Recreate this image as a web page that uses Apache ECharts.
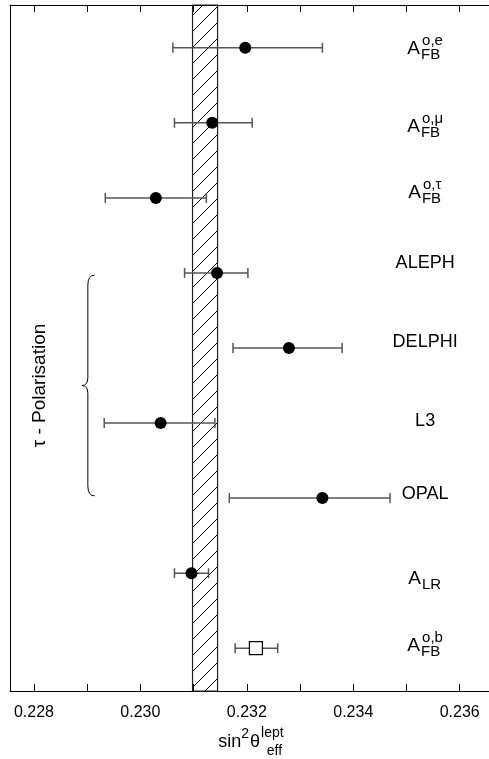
<!DOCTYPE html>
<html><head><meta charset="utf-8">
<script src="https://cdn.jsdelivr.net/npm/echarts@6/dist/echarts.min.js"></script>
<style>html,body{margin:0;padding:0;background:#fff}#c{width:489px;height:759px}</style>
</head><body><div id="c"></div>
<script>
// ---- data ----
const labelMain = ['A','A','A','ALEPH','DELPHI','L3','OPAL','A','A'];
const labelSup  = ['o,e','o,\u03bc','o,\u03c4','','','','','','o,b'];
const labelSub  = ['FB','FB','FB','','','','','LR','FB'];
const values  = [0.23197, 0.23135, 0.23029, 0.23144, 0.23279, 0.23038, 0.23342, 0.23096, 0.23217];
const errLow  = [0.23061, 0.23064, 0.22934, 0.23083, 0.23174, 0.22932, 0.23167, 0.23064, 0.23178];
const errHigh = [0.23342, 0.23210, 0.23124, 0.23202, 0.23379, 0.23140, 0.23469, 0.23128, 0.23258];
const band = [0.23098, 0.23145];
const xTickLabels = ['0.228','0.230','0.232','0.234','0.236'];
const groupLabel = '\u03c4 - Polarisation';
const groupRows = [4.03, 6.97];

// ---- layout / style ----
const FONT = '"Liberation Sans", Arial, Helvetica, sans-serif';
const X_MIN = 0.22755, X_MAX = 0.23655, Y_MIN = 0.43, Y_MAX = 9.57;
const LABEL_X = 0.23535;
const labelDy = [1, 4, -5, -10, -6, -2, -4, 6, -2];
const mctx = document.createElement('canvas').getContext('2d');
function tw(t, s){ mctx.font = s + 'px ' + FONT; return mctx.measureText(t).width; }
function txt(t, x, y, s, align){ return {type:'text', style:{text:t, x:x, y:y, font: s+'px '+FONT, fill:'#000', align: align||'left', verticalAlign:'middle'}}; }
function compound(cx, cy, main, sup, sub, big, small){
  const wM = tw(main, big);
  const wS = Math.max(sup ? tw(sup, small) : 0, sub ? tw(sub, small) : 0);
  const total = wM + (wS ? wS + 2 : 0);
  const x0 = cx - total / 2;
  const kids = [txt(main, x0, cy, big)];
  if (sup) kids.push(txt(sup, x0 + wM + 2, cy - 8, small));
  if (sub) kids.push(txt(sub, x0 + wM + 1, cy + 6, small));
  return kids;
}

// hatch pattern
const pc = document.createElement('canvas');
pc.width = 16; pc.height = 16;
const pctx = pc.getContext('2d');
pctx.strokeStyle = '#000'; pctx.lineWidth = 1;
pctx.beginPath();
pctx.moveTo(-1, 17); pctx.lineTo(17, -1);
pctx.stroke();

const chart = echarts.init(document.getElementById('c'), null, {renderer:'canvas'});
const isMajor = v => xTickLabels.indexOf(v.toFixed(3)) >= 0 && Math.abs(v*1000 - Math.round(v*1000)) < 1e-6;

const axisCommon = {
  type:'value', min:X_MIN, max:X_MAX, splitNumber:9,
  splitLine:{show:false},
  axisLine:{show:true, onZero:false, lineStyle:{color:'#000', width:1}},
  axisTick:{show:true, inside:true, length:7, lineStyle:{color:'#000', width:1}}
};

const option = {
  animation:false,
  backgroundColor:'#fff',
  grid:{left:10, right:-4, top:5, bottom:68, containLabel:false},
  xAxis:[
    Object.assign({}, axisCommon, {position:'bottom',
      axisLabel:{show:true, color:'#000', fontSize:16, fontFamily:FONT, margin:14,
        showMinLabel:false, showMaxLabel:false,
        formatter: v => isMajor(v) ? v.toFixed(3) : ''}}),
    Object.assign({}, axisCommon, {position:'top', axisLabel:{show:false}})
  ],
  yAxis:{type:'value', min:Y_MIN, max:Y_MAX, inverse:true,
    splitLine:{show:false}, axisTick:{show:false}, axisLabel:{show:false},
    axisLine:{show:true, onZero:false, lineStyle:{color:'#000', width:1}}},
  series:[
    { // hatched band
      type:'custom', z:2, data:[[band[0], band[1]]],
      renderItem:(params, api) => {
        const p0 = api.coord([api.value(0), Y_MIN]);
        const p1 = api.coord([api.value(1), Y_MAX]);
        return {type:'rect', shape:{x:p0[0], y:p0[1], width:p1[0]-p0[0], height:p1[1]-p0[1]},
          style:{fill:{image:pc, repeat:'repeat'}, stroke:'#222', lineWidth:1.2}};
      }
    },
    { // error bars and markers
      type:'custom', z:3,
      data: values.map((v, i) => [i + 1, v, errLow[i], errHigh[i]]),
      renderItem:(params, api) => {
        const row = api.value(0);
        const pl = api.coord([api.value(2), row]);
        const ph = api.coord([api.value(3), row]);
        const pm = api.coord([api.value(1), row]);
        const st = {stroke:'#555', lineWidth:1.5};
        const kids = [
          {type:'line', shape:{x1:pl[0], y1:pl[1], x2:ph[0], y2:ph[1]}, style:st},
          {type:'line', shape:{x1:pl[0], y1:pl[1]-5, x2:pl[0], y2:pl[1]+5}, style:st},
          {type:'line', shape:{x1:ph[0], y1:ph[1]-5, x2:ph[0], y2:ph[1]+5}, style:st}
        ];
        if (params.dataIndex === values.length - 1) {
          kids.push({type:'rect', shape:{x:pm[0]-6.5, y:pm[1]-6.5, width:13, height:13},
            style:{fill:'#fff', stroke:'#000', lineWidth:1.2}});
        } else {
          kids.push({type:'circle', shape:{cx:pm[0], cy:pm[1], r:6}, style:{fill:'#000'}});
        }
        return {type:'group', children:kids};
      }
    },
    { // right-hand labels
      type:'custom', z:4,
      data: labelMain.map((m, i) => [i + 1]),
      renderItem:(params, api) => {
        const i = params.dataIndex;
        const p = api.coord([LABEL_X, api.value(0)]);
        const cy = p[1] + labelDy[i];
        let kids;
        if (labelSup[i] || labelSub[i]) kids = compound(p[0], cy, labelMain[i], labelSup[i], labelSub[i], 19, 15);
        else kids = [txt(labelMain[i], p[0], cy, 18, 'center')];
        return {type:'group', children:kids};
      }
    },
    { // brace + group label
      type:'custom', z:4, data:[[groupRows[0], groupRows[1]]],
      renderItem:(params, api) => {
        const a = api.coord([0.22914, api.value(0)]);
        const b = api.coord([0.22914, api.value(1)]);
        const m = api.coord([0.22890, (api.value(0)+api.value(1))/2]);
        const xr = a[0], xl = m[0], xm = xl + 6, y0 = a[1], y1 = b[1], ym = m[1];
        const d = 'M'+xr+' '+y0+' Q'+xm+' '+y0+' '+xm+' '+(y0+10)+
          ' L'+xm+' '+(ym-8)+' Q'+xm+' '+ym+' '+xl+' '+ym+
          ' Q'+xm+' '+ym+' '+xm+' '+(ym+8)+
          ' L'+xm+' '+(y1-10)+' Q'+xm+' '+y1+' '+xr+' '+y1;
        return {type:'group', children:[
          {type:'path', shape:{pathData:d}, style:{fill:null, stroke:'#000', lineWidth:1}},
          {type:'text', x:xl - 42, y:ym, rotation:Math.PI/2,
            style:{text:groupLabel, x:0, y:0, font:'19px '+FONT, fill:'#000', align:'center', verticalAlign:'middle'}}
        ]};
      }
    }
  ],
  graphic:[]
};
chart.setOption(option);

// axis title  sin^2 θ ^lept _eff
(function(){
  const big = 18, small = 14;
  const wLept = Math.max(tw('lept', small), tw('eff', small));
  let total = tw('sin', big) + tw('2', small) + 1 + tw('\u03b8', big) + 1 + wLept;
  const cx = 251, cy = 742;
  let x = cx - total / 2;
  const els = [];
  els.push({type:'text', x:x, y:cy, style:{text:'sin', font:big+'px '+FONT, fill:'#000', align:'left', verticalAlign:'middle'}});
  x += tw('sin', big);
  els.push({type:'text', x:x, y:cy-8, style:{text:'2', font:small+'px '+FONT, fill:'#000', align:'left', verticalAlign:'middle'}});
  x += tw('2', small) + 1;
  els.push({type:'text', x:x, y:cy, style:{text:'\u03b8', font:big+'px '+FONT, fill:'#000', align:'left', verticalAlign:'middle'}});
  x += tw('\u03b8', big) + 1;
  els.push({type:'text', x:x, y:cy-9, style:{text:'lept', font:small+'px '+FONT, fill:'#000', align:'left', verticalAlign:'middle'}});
  els.push({type:'text', x:x + (wLept - tw('eff', small))/2 + 2, y:cy+9, style:{text:'eff', font:small+'px '+FONT, fill:'#000', align:'left', verticalAlign:'middle'}});
  chart.setOption({graphic: els});
})();
</script></body></html>
